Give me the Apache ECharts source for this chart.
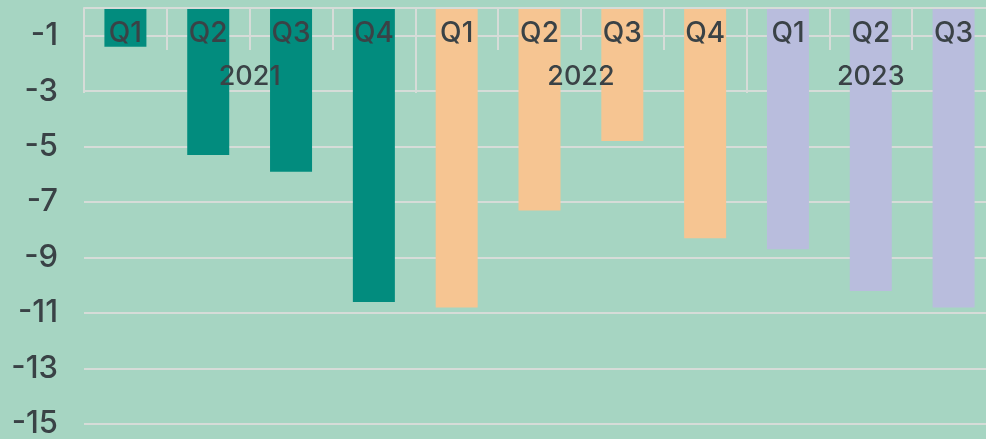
<!DOCTYPE html>
<html>
<head>
<meta charset="utf-8">
<script src="https://cdn.jsdelivr.net/npm/echarts@6/dist/echarts.min.js"></script>
<style>
  html, body { margin: 0; padding: 0; background: #a6d5c2; }
  #chart { width: 986px; height: 439px; }
</style>
</head>
<body>
<div id="chart"></div>
<script>
// data
const quarters = ['Q1', 'Q2', 'Q3', 'Q4', 'Q1', 'Q2', 'Q3', 'Q4', 'Q1', 'Q2', 'Q3'];
const years = ['2021', '2021', '2021', '2021', '2022', '2022', '2022', '2022', '2023', '2023', '2023'];
const values = [-1.4, -5.3, -5.9, -10.6, -10.8, -7.3, -4.8, -8.3, -8.7, -10.2, -10.8];
const yearList = ['2021', '2022', '2023'];

// styles
const yearColors = { '2021': '#028c7e', '2022': '#f6c592', '2023': '#b9bddd' };
const textColor = '#3a4246';
const lineColor = '#d6dcd8';
const font = 'Inter, "Noto Sans", sans-serif';

// centre of each year group on a 0..n scale
const yearCenter = {};
yearList.forEach(y => {
  const first = years.indexOf(y);
  const last = years.lastIndexOf(y);
  yearCenter[(first + last + 1) / 2] = y;
});
const yearStarts = yearList.map(y => years.indexOf(y));

const chart = echarts.init(document.getElementById('chart'));
chart.setOption({
  backgroundColor: '#a6d5c2',
  animation: false,
  grid: { left: 84, width: 911, top: 8, bottom: 15, outerBoundsMode: 'none', containLabel: false },
  xAxis: [
    {
      type: 'category',
      data: quarters,
      position: 'top',
      z: 10,
      axisLine: { show: true, lineStyle: { color: lineColor, width: 2 } },
      axisTick: { show: true, inside: true, length: 42, interval: 0, lineStyle: { color: lineColor, width: 2 } },
      axisLabel: { inside: true, margin: 12, interval: 0, color: textColor, fontSize: 28, fontWeight: 500, fontFamily: font },
    },
    {
      type: 'category',
      data: quarters,
      position: 'top',
      axisLine: { show: false },
      axisTick: {
        show: true, inside: true, length: 85,
        interval: (i) => yearStarts.includes(i),
        lineStyle: { color: lineColor, width: 2 },
      },
      axisLabel: { show: false },
    },
    {
      type: 'value',
      min: 0,
      max: quarters.length,
      interval: 0.5,
      position: 'top',
      z: 10,
      axisLine: { show: false },
      axisTick: { show: false },
      splitLine: { show: false },
      axisLabel: {
        inside: true, margin: 55, color: textColor, fontSize: 27, fontWeight: 500, fontFamily: font,
        formatter: (v) => yearCenter[v] || '',
      },
    },
  ],
  yAxis: {
    type: 'value',
    min: -15,
    max: 0,
    interval: 2,
    axisLine: { show: false },
    axisTick: { show: false },
    splitLine: { lineStyle: { color: lineColor, width: 2 } },
    axisLabel: {
      margin: 26, color: textColor, fontSize: 31, fontWeight: 500, fontFamily: font,
      formatter: (v) => (v === 0 ? '' : String(v)),
    },
  },
  series: [
    {
      type: 'bar',
      xAxisIndex: 0,
      barWidth: 42,
      data: values.map((v, i) => ({ value: v, itemStyle: { color: yearColors[years[i]] } })),
    },
  ],
});
</script>
</body>
</html>
